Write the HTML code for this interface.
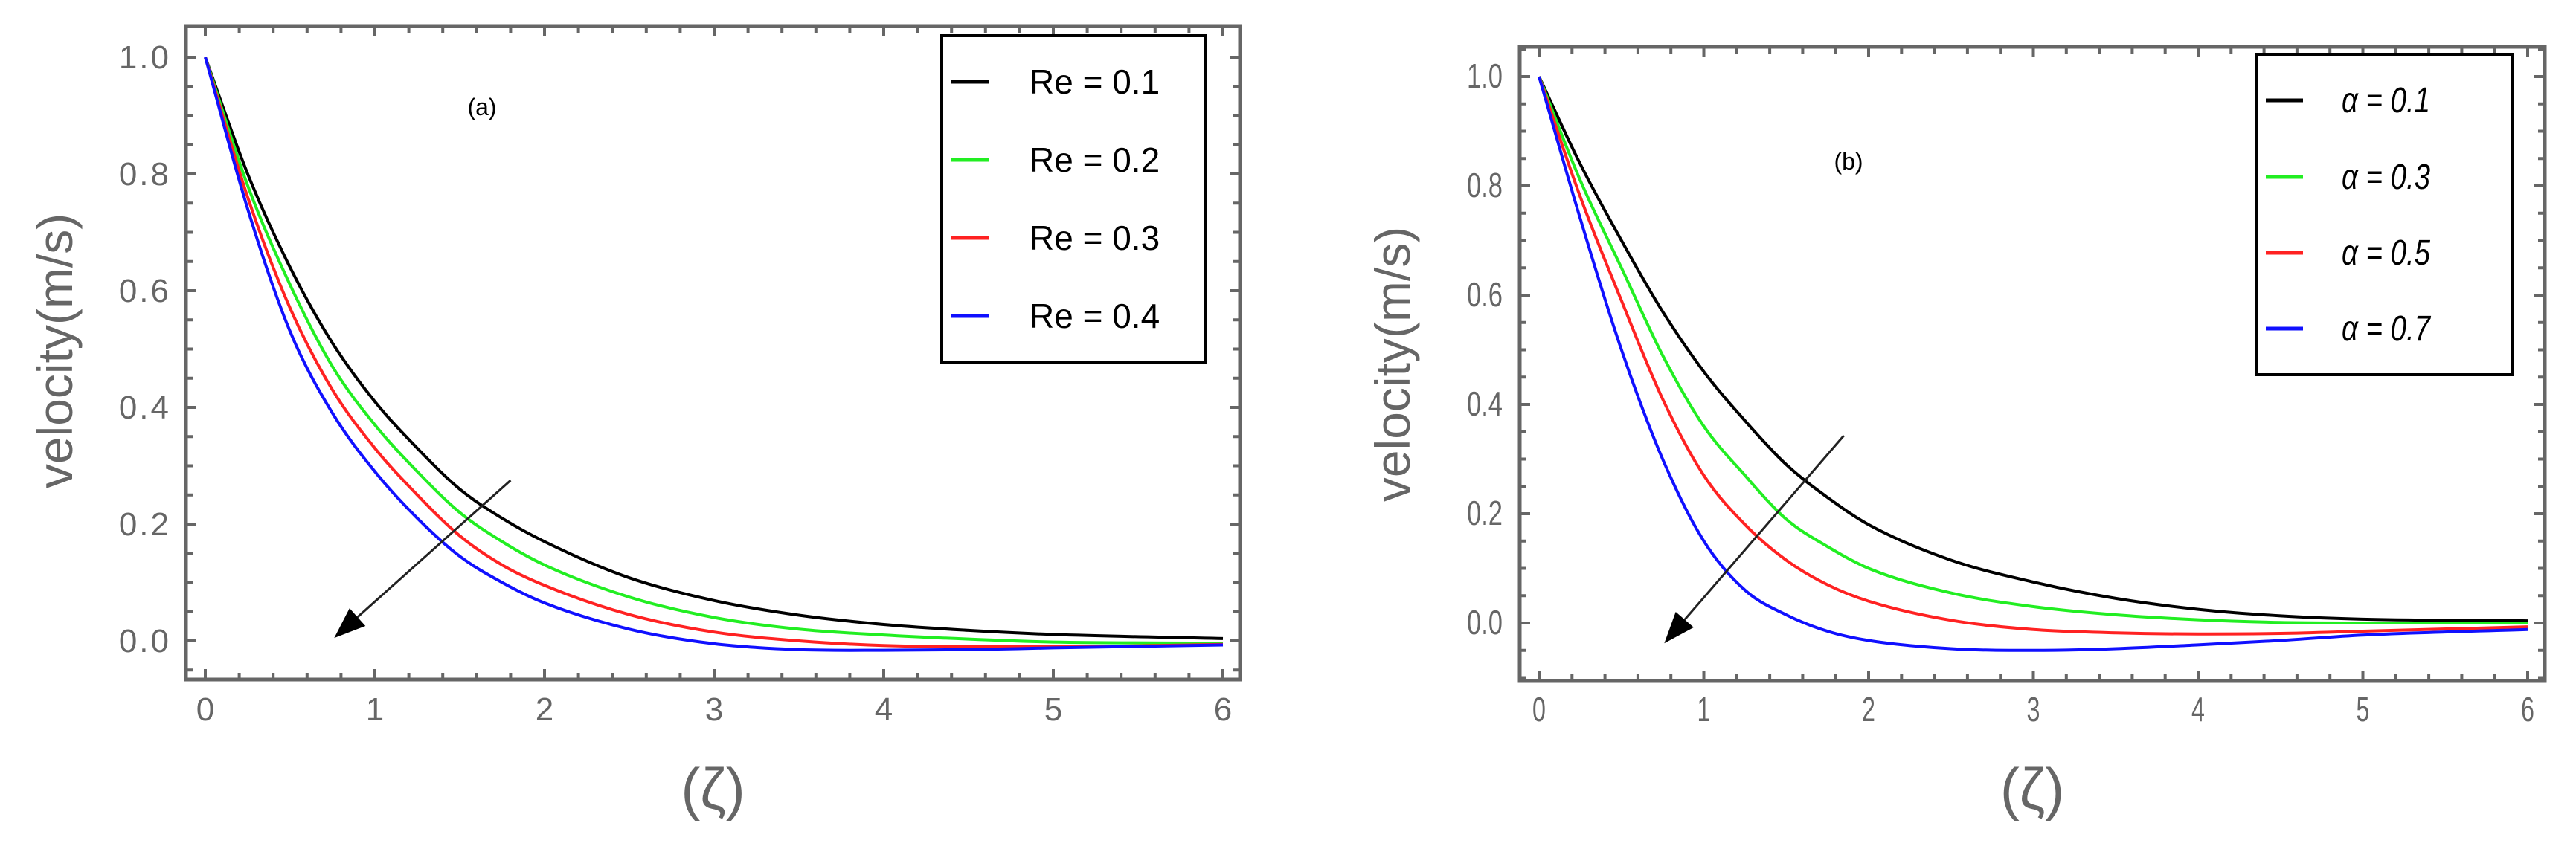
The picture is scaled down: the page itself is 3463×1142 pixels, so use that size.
<!DOCTYPE html>
<html><head><meta charset="utf-8"><style>
html,body{margin:0;padding:0;background:#fff;}
svg{display:block;}
text{font-family:"Liberation Sans",sans-serif;}
</style></head><body>
<svg id="chart" width="3463" height="1142" viewBox="0 0 3463 1142" xmlns="http://www.w3.org/2000/svg"></svg>
<script>
// ---- data ----
const xsA = [0,0.25,0.5,0.75,1,1.25,1.5,1.75,2,2.5,3,3.5,4,4.5,5,6];
const aBlack = [1,0.80,0.64,0.51,0.41,0.33,0.26,0.21,0.17,0.108,0.069,0.044,0.028,0.018,0.011,0.004];
const aGreen = [1,0.78,0.61,0.47,0.37,0.29,0.22,0.17,0.13,0.075,0.04,0.02,0.01,0.003,-0.002,-0.004];
const aRed   = [1,0.76,0.57,0.43,0.33,0.25,0.18,0.13,0.095,0.045,0.015,0.0,-0.008,-0.01,-0.01,-0.006];
const aBlue  = [1,0.74,0.53,0.39,0.29,0.21,0.145,0.10,0.065,0.02,-0.005,-0.015,-0.016,-0.015,-0.012,-0.007];
const aLabels = ["Re = 0.1","Re = 0.2","Re = 0.3","Re = 0.4"];

const xsB = [0,0.25,0.5,0.75,1,1.25,1.5,1.75,2,2.5,3,3.5,4,4.5,5,6];
const bBlack = [1,0.84,0.70,0.57,0.46,0.37,0.29,0.23,0.18,0.115,0.075,0.045,0.025,0.013,0.007,0.004];
const bGreen = [1,0.81,0.65,0.49,0.36,0.27,0.19,0.14,0.10,0.055,0.03,0.015,0.006,0.001,0.0,0.0];
const bRed   = [1,0.78,0.59,0.41,0.27,0.18,0.115,0.07,0.04,0.005,-0.012,-0.018,-0.02,-0.019,-0.015,-0.007];
const bBlue  = [1,0.74,0.50,0.30,0.15,0.06,0.015,-0.015,-0.032,-0.047,-0.05,-0.047,-0.04,-0.032,-0.022,-0.012];
const bLabels = ["\u03B1 = 0.1","\u03B1 = 0.3","\u03B1 = 0.5","\u03B1 = 0.7"];

const xTicks = [0,1,2,3,4,5,6];
const yTicks = [0,0.2,0.4,0.6,0.8,1.0];
const yTickLabels = ["0.0","0.2","0.4","0.6","0.8","1.0"];
const colors = ["#000000","#22ee22","#ff2222","#1010ff"];

const NS="http://www.w3.org/2000/svg";
const svg=document.getElementById('chart');
function mk(tag,attrs,parent){const e=document.createElementNS(NS,tag);for(const k in attrs)e.setAttribute(k,attrs[k]);(parent||svg).appendChild(e);return e;}

function monotonePath(px,py){
  const n=px.length;const d=[],m=[];
  for(let i=0;i<n-1;i++)d.push((py[i+1]-py[i])/(px[i+1]-px[i]));
  m[0]=d[0];m[n-1]=d[n-2];
  for(let i=1;i<n-1;i++){m[i]=(d[i-1]*d[i]<=0)?0:(d[i-1]+d[i])/2;}
  let s="M"+px[0].toFixed(1)+","+py[0].toFixed(1);
  for(let i=0;i<n-1;i++){const h=px[i+1]-px[i];
    s+=" C"+(px[i]+h/3).toFixed(1)+","+(py[i]+m[i]*h/3).toFixed(1)+" "+(px[i+1]-h/3).toFixed(1)+","+(py[i+1]-m[i+1]*h/3).toFixed(1)+" "+px[i+1].toFixed(1)+","+py[i+1].toFixed(1);}
  return s;
}

function panel(cfg){
  const g=mk('g',{});
  
  
  const X=v=>cfg.x0+(v)*cfg.ux;
  const Y=v=>cfg.y0-(v)*cfg.uy;
  const L=cfg.left,R=cfg.right,T=cfg.top,B=cfg.bottom;
  for(let v=0;v<=6.001;v+=0.2){
    const major=Math.abs(v-Math.round(v))<1e-6;const len=major?14:9;
    const px=X(v);
    const t1=mk('line',{x1:px,y1:B,x2:px,y2:B-len,stroke:'#666','stroke-width':4},g);
    
    const t2=mk('line',{x1:px,y1:T,x2:px,y2:T+len,stroke:'#666','stroke-width':4},g);
    
  }
  for(let k=-2;k<=21;k++){const v=k*0.05;const py=Y(v);if(py>B-3||py<T+3)continue;
    const major=(k%4===0);const len=major?14:9;
    const t1=mk('line',{x1:L,y1:py,x2:L+len,y2:py,stroke:'#666','stroke-width':4},g);
    
    const t2=mk('line',{x1:R,y1:py,x2:R-len,y2:py,stroke:'#666','stroke-width':4},g);
    
  }
  const fr=mk('rect',{x:L,y:T,width:R-L,height:B-T,fill:'none',stroke:'#666','stroke-width':5},g);
  
  xTicks.forEach(v=>{const t=mk('text',{x:X(v),y:cfg.xlabY,'text-anchor':'middle','font-size':cfg.fs,fill:'#666'},g);
    t.textContent=String(v);if(cfg.cond)t.setAttribute('transform','translate('+X(v)+',0) scale(0.7,1) translate('+(-X(v))+',0)');
    });
  yTicks.forEach((v,i)=>{const t=mk('text',{x:cfg.ylabX,y:Y(v)+15,'text-anchor':'end','font-size':cfg.fs,fill:'#666'},g);
    t.textContent=yTickLabels[i];if(cfg.cond)t.setAttribute('transform','translate('+cfg.ylabX+',0) scale(0.75,1) translate('+(-cfg.ylabX)+',0)');
    else t.setAttribute('letter-spacing','3');
    });
  cfg.series.forEach((ys,i)=>{
    const p=mk('path',{d:monotonePath(cfg.xs.map(X),ys.map(Y)),fill:'none',stroke:colors[i],'stroke-width':4},g);
    
  });
  const ax1=X(cfg.arrow[0]),ay1=Y(cfg.arrow[1]),ax2=X(cfg.arrow[2]),ay2=Y(cfg.arrow[3]);
  const ang=Math.atan2(ay2-ay1,ax2-ax1);const hl=42,hw=16;
  const bx=ax2-hl*Math.cos(ang),by=ay2-hl*Math.sin(ang);
  const al=mk('line',{x1:ax1,y1:ay1,x2:bx,y2:by,stroke:'#222','stroke-width':3},g);
  
  const ah=mk('polygon',{points:ax2+','+ay2+' '+(bx+hw*Math.sin(ang))+','+(by-hw*Math.cos(ang))+' '+(bx-hw*Math.sin(ang))+','+(by+hw*Math.cos(ang)),fill:'#000'},g);
  
  const tg=mk('text',{x:cfg.tag[0],y:cfg.tag[1],'text-anchor':'middle','font-size':32,fill:'#000'},g);
  tg.textContent=cfg.tag[2];
  const lb=mk('rect',{x:cfg.leg[0],y:cfg.leg[1],width:cfg.leg[2],height:cfg.leg[3],fill:'#fff',stroke:'#000','stroke-width':4},g);
  
  cfg.labels.forEach((s,i)=>{const yy=cfg.legY[i];
    const sw=mk('line',{x1:cfg.leg[0]+13,y1:yy,x2:cfg.leg[0]+63,y2:yy,stroke:colors[i],'stroke-width':5},g);
    
    const t=mk('text',{x:cfg.legTX,y:yy+16,'font-size':cfg.legFs,fill:'#000'},g);
    t.textContent=s;if(cfg.cond){t.setAttribute('font-style','italic');t.setAttribute('transform','translate('+cfg.legTX+',0) scale(0.8,1) translate('+(-cfg.legTX)+',0)');}
    });
  const yt=mk('text',{x:0,y:0,'text-anchor':'middle','font-size':cfg.yTitleFs,fill:'#666',transform:'translate('+cfg.yTitle[0]+','+cfg.yTitle[1]+') rotate(-90)'},g);
  yt.textContent='velocity(m/s)';
  const xt=mk('text',{x:(L+R)/2,y:1088,'text-anchor':'middle','font-size':78,fill:'#666','font-family':'"Liberation Serif",serif'},g);
  xt.textContent='(\u03B6)';
}

panel({name:'panel-a',x0:276,ux:228,y0:862,uy:785,left:250,right:1667,top:35,bottom:914,
  xlabY:969,ylabX:230,fs:44,cond:false,xs:xsA,series:[aBlack,aGreen,aRed,aBlue],
  arrow:[1.8,0.275,0.76,0.005],tag:[648,155,'(a)'],
  leg:[1266,48,355,440],legY:[110,215,320,425],legTX:1384,legFs:46,labels:aLabels,
  yTitle:[97,472],yTitleFs:66});
panel({name:'panel-b',x0:2069,ux:221.5,y0:838,uy:735,left:2043,right:3421,top:63,bottom:916,
  xlabY:970,ylabX:2020,fs:46,cond:true,xs:xsB,series:[bBlack,bGreen,bRed,bBlue],
  arrow:[1.85,0.343,0.76,-0.037],tag:[2485,228,'(b)'],
  leg:[3033,73,345,431],legY:[135,238,340,442],legTX:3148,legFs:48,labels:bLabels,
  yTitle:[1895,490],yTitleFs:66});
</script>
</body></html>
